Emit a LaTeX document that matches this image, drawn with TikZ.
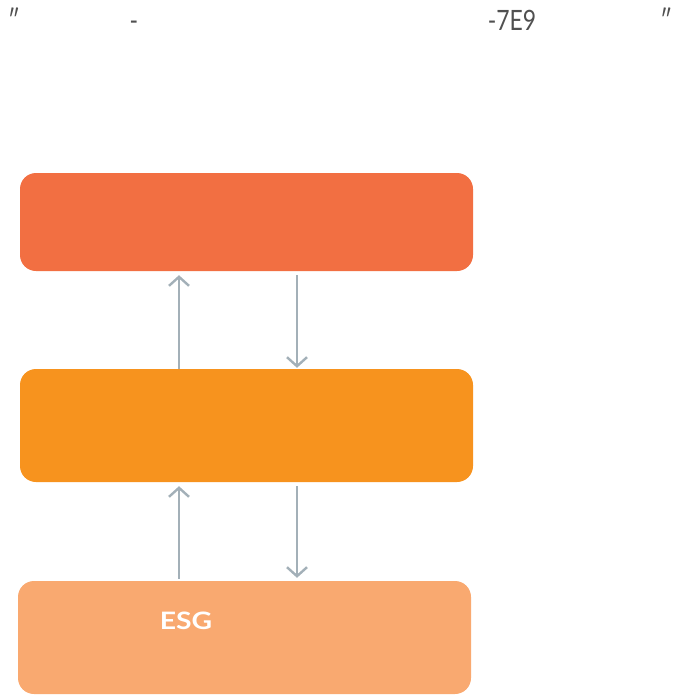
\documentclass[tikz,border=0pt]{standalone}
\usepackage{fontspec}
\setmainfont{Lato}
\usetikzlibrary{arrows.meta}
\definecolor{boxA}{RGB}{242,111,66}
\definecolor{boxB}{RGB}{247,147,30}
\definecolor{boxC}{RGB}{249,169,112}
\definecolor{arrgray}{RGB}{163,176,184}
\definecolor{txtgray}{RGB}{80,80,80}
\tikzset{
  panel/.style={rounded corners=16pt, inner sep=0pt, draw=none},
  flow/.style={draw=arrgray, line width=2.4pt, -{Straight Barb[length=9pt,width=20pt,line width=2.4pt]}},
  toptext/.style={text=txtgray, font=\fontsize{28}{32}\selectfont, anchor=base, inner sep=0pt, xscale=0.82},
}
\begin{document}
\begin{tikzpicture}[x=1pt,y=-1pt]
\useasboundingbox (0,0) rectangle (674,697);
\node[toptext] (q1) at (14,30) {″};
\node[toptext] (d1) at (134,30) {-};
\node[toptext] (code) at (512,30) {-7E9};
\node[toptext] (q2) at (666,30) {″};
\fill[boxA, panel] (20,173) rectangle (473,271);
\node[minimum width=453pt, minimum height=98pt, inner sep=0pt] (top) at (246.5,222) {};
\fill[boxB, panel] (20,369) rectangle (473,482);
\node[minimum width=453pt, minimum height=113pt, inner sep=0pt] (mid) at (246.5,425.5) {};
\fill[boxC, panel] (18,581) rectangle (471,694);
\node[minimum width=453pt, minimum height=113pt, inner sep=0pt] (bot) at (244.5,637.5) {};
\node[text=white, font=\bfseries\fontsize{24}{28}\selectfont, inner sep=0pt, xscale=1.18] (esg) at (186,621) {ESG};
\coordinate (ul) at (179,0);
\coordinate (dl) at (297,0);
\draw[flow] (mid.north -| ul) -- ([yshift=-4pt]top.south -| ul);
\draw[flow] ([yshift=-4pt]top.south -| dl) -- ([yshift=1pt]mid.north -| dl);
\draw[flow] ([yshift=2pt]bot.north -| ul) -- ([yshift=-4pt]mid.south -| ul);
\draw[flow] ([yshift=-4pt]mid.south -| dl) -- ([yshift=3pt]bot.north -| dl);
\end{tikzpicture}
\end{document}
